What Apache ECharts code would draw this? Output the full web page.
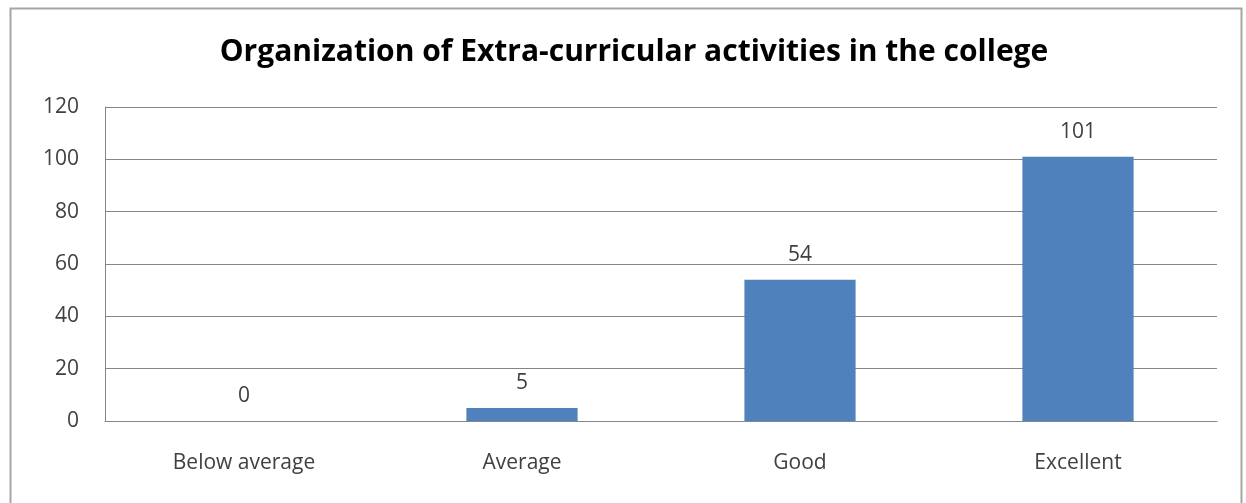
<!DOCTYPE html>
<html><head><meta charset="utf-8">
<script src="https://cdn.jsdelivr.net/npm/echarts@6/dist/echarts.min.js"></script>
<style>html,body{margin:0;padding:0;background:#fff;}#c{width:1246px;height:503px;}</style>
</head><body><div id="c"></div>
<script>
const titleText = 'Organization of Extra-curricular activities in the college';
const categories = ['Below average', 'Average', 'Good', 'Excellent'];
const values = [0, 5, 54, 101];
const yTicks = [0, 20, 40, 60, 80, 100, 120];

const chart = echarts.init(document.getElementById('c'), null, {renderer: 'canvas'});
const font = '"Open Sans", "Noto Sans", sans-serif';
chart.setOption({
  animation: false,
  backgroundColor: '#fff',
  graphic: [{
    type: 'rect', shape: {x: 10.5, y: 8.5, width: 1231, height: 510},
    style: {fill: 'none', stroke: '#a6a6a6', lineWidth: 2}, silent: true
  }],
  title: {
    text: titleText, left: 629, top: 32, textAlign: 'center',
    textStyle: {fontFamily: font, fontSize: 30, fontWeight: 'bold', color: '#000'}
  },
  grid: {left: 105, right: 29, top: 107, bottom: 82, containLabel: false},
  xAxis: {
    type: 'category', data: categories,
    axisLine: {show: true, lineStyle: {color: '#868686', width: 1}},
    axisTick: {show: false},
    axisLabel: {fontFamily: font, fontSize: 21, color: '#404040', margin: 32}
  },
  yAxis: {
    type: 'value', min: yTicks[0], max: yTicks[yTicks.length - 1], interval: 20,
    axisLine: {show: true, lineStyle: {color: '#868686', width: 1}},
    axisTick: {show: false},
    splitLine: {show: true, lineStyle: {color: '#868686', width: 1}},
    axisLabel: {fontFamily: font, fontSize: 21, color: '#404040', margin: 26}
  },
  series: [{
    type: 'bar', data: values, barWidth: '40%',
    itemStyle: {color: '#4f81bd'},
    label: {show: true, position: 'top', distance: 14, fontFamily: font, fontSize: 21, color: '#404040'}
  }]
});
</script></body></html>
